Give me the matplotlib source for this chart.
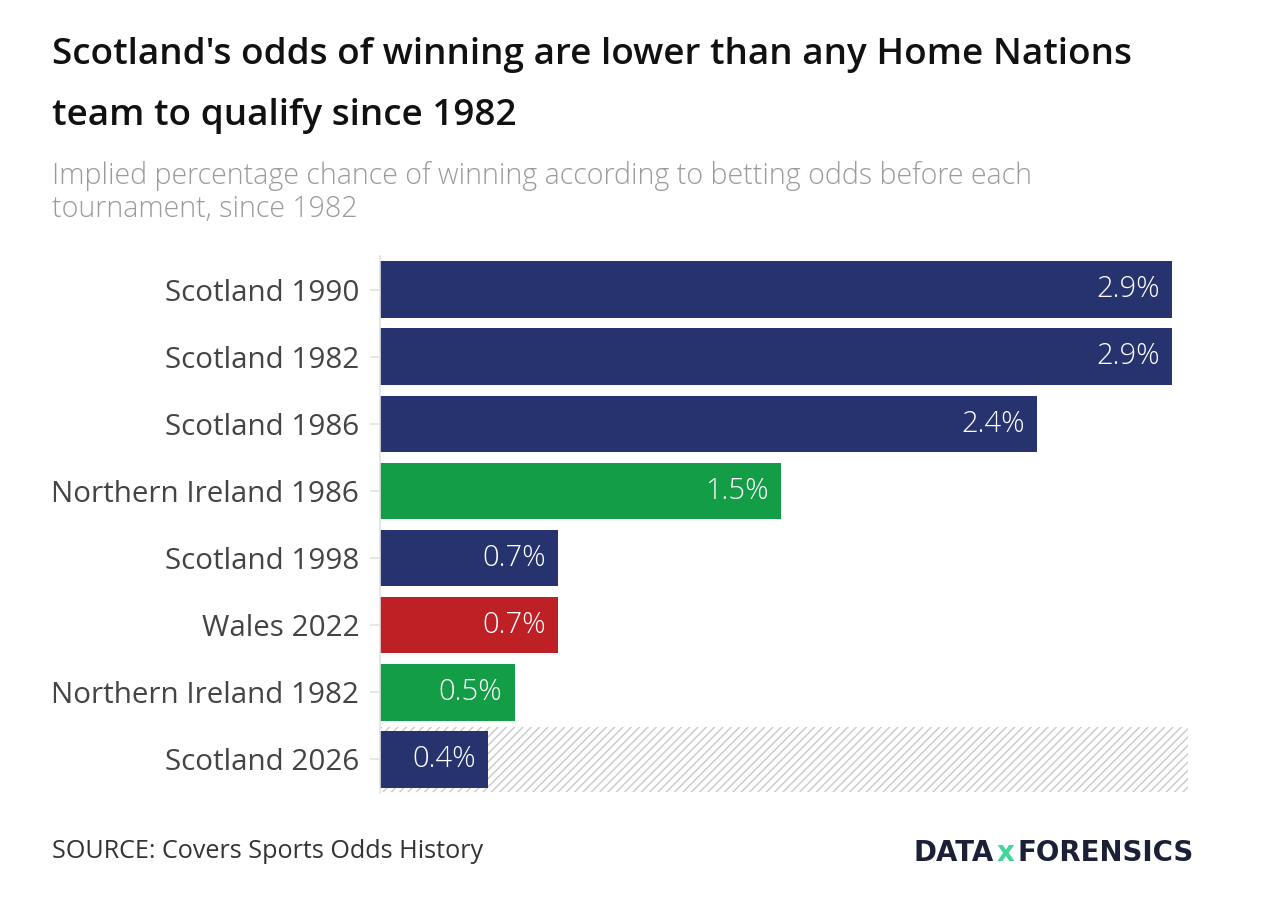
from matplotlib import pyplot as plt

W, H = 1262, 902

teams = ['Scotland 1990', 'Scotland 1982', 'Scotland 1986', 'Northern Ireland 1986',
         'Scotland 1998', 'Wales 2022', 'Northern Ireland 1982', 'Scotland 2026']
odds = [2.94, 2.94, 2.44, 1.49, 0.66, 0.66, 0.5, 0.4]
nations = ['Scotland', 'Scotland', 'Scotland', 'Northern Ireland',
           'Scotland', 'Wales', 'Northern Ireland', 'Scotland']
pending = ['Scotland 2026']
axis_max = 3.0

colours = {'Scotland': '#27336f', 'Northern Ireland': '#139d47', 'Wales': '#bf2026'}

FONT = 'Open Sans'
plt.rcParams['hatch.linewidth'] = 1.0


def px(x, y):
    return x / W, 1 - y / H


fig = plt.figure(figsize=(W / 100, H / 100), dpi=100)
fig.patch.set_facecolor('white')
ax = fig.add_axes([380 / W, 1 - 793 / H, (1188 - 380) / W, (793 - 256) / H])

ypos = list(range(len(teams)))

# hatched background for the tournament still to come
for i, t in enumerate(teams):
    if t in pending:
        ax.barh(i, axis_max, height=0.97, left=0, color='white',
                edgecolor='#c9c9c9', hatch='////', linewidth=0, zorder=1)

bars = ax.barh(ypos, odds, height=0.84, color=[colours[n] for n in nations], zorder=2)

for b, v in zip(bars, odds):
    ax.text(v - 0.045, b.get_y() + b.get_height() / 2, '%.1f%%' % v,
            ha='right', va='center', color='white', fontsize=21,
            family=FONT, fontweight='light', zorder=3)

ax.set_xlim(0, axis_max)
ax.set_ylim(len(teams) - 0.5, -0.5)
ax.set_yticks(ypos)
ax.set_yticklabels(teams, family=FONT, fontsize=21.3, color='#444444')
ax.tick_params(axis='y', length=7, width=1.2, color='#e3e3e3', pad=8)
ax.set_xticks([])
for s in ['top', 'right', 'bottom']:
    ax.spines[s].set_visible(False)
ax.spines['left'].set_color('#e3e3e3')
ax.spines['left'].set_linewidth(1.2)

fig.text(*px(52, 64), "Scotland's odds of winning are lower than any Home Nations",
         family=FONT, fontweight='semibold', fontsize=26.6, color='#111111', va='baseline')
fig.text(*px(52, 125), 'team to qualify since 1982',
         family=FONT, fontweight='semibold', fontsize=26.6, color='#111111', va='baseline')
fig.text(*px(52, 184), 'Implied percentage chance of winning according to betting odds before each',
         family=FONT, fontweight='light', fontsize=20.6, color='#9b9b9b', va='baseline')
fig.text(*px(52, 217), 'tournament, since 1982',
         family=FONT, fontweight='light', fontsize=20.6, color='#9b9b9b', va='baseline')
fig.text(*px(52, 858), 'SOURCE: Covers Sports Odds History',
         family=FONT, fontsize=18.1, color='#333333', va='baseline')

# logo: lay the three pieces out one after another and fit them to the space
renderer = fig.canvas.get_renderer()
logo_kw = dict(family='DejaVu Sans', fontweight='bold', fontsize=30, va='baseline', ha='left')
parts = [('DATA', '#1c2037'), ('x', '#3fd69a'), ('FORENSICS', '#1c2037')]
gap = 3
texts = []
x = 913
for s, c in parts:
    t = fig.text(*px(x, 861), s, color=c, **logo_kw)
    w = t.get_window_extent(renderer).width
    texts.append((t, w))
    x += w + gap
total = x - gap - 913
scale = (1192 - 913) / total
x = 913
for t, w in texts:
    t.set_fontsize(30 * scale)
    t.set_position(px(x, 861))
    x += w * scale + gap

fig.savefig('out.png', dpi=100, facecolor='white')
